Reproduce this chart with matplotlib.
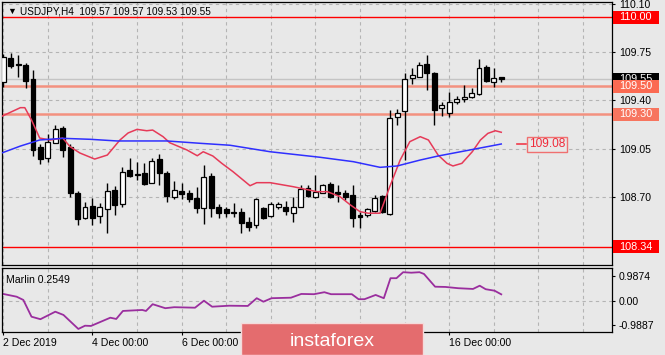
import matplotlib
matplotlib.use('Agg')
import matplotlib.pyplot as plt
from matplotlib.patches import Rectangle
from matplotlib.transforms import blended_transform_factory

plt.rcParams['font.family'] = ['Liberation Sans', 'DejaVu Sans']

#%% data (USDJPY H4)
opens = [109.534, 109.703, 109.660, 109.655, 109.551, 109.059, 108.980, 109.092, 109.201, 109.063,
         108.726, 108.545, 108.634, 108.562, 108.610, 108.750, 108.649, 108.895, 108.866, 108.875,
         108.803, 108.974, 108.871, 108.702, 108.745, 108.731, 108.690, 108.622, 108.854, 108.629,
         108.610, 108.593, 108.589, 108.521, 108.497, 108.622, 108.562, 108.629, 108.629, 108.586,
         108.629, 108.767, 108.702, 108.731, 108.794, 108.738, 108.731, 108.714, 108.569, 108.569,
         108.600, 108.709, 108.576, 109.281, 109.324, 109.558, 109.570, 109.662, 109.599, 109.341,
         109.305, 109.389, 109.406, 109.425, 109.445, 109.642, 109.529, 109.570]
highs = [109.734, 109.739, 109.727, 109.671, 109.618, 109.083, 109.153, 109.220, 109.213, 109.083,
         108.745, 108.665, 108.690, 108.654, 108.803, 108.779, 108.914, 108.980, 108.955, 108.943,
         108.980, 109.011, 108.890, 108.815, 108.803, 108.750, 108.770, 108.931, 108.875, 108.649,
         108.629, 108.654, 108.618, 108.557, 108.690, 108.629, 108.665, 108.665, 108.671, 108.702,
         108.786, 108.786, 108.859, 108.794, 108.810, 108.786, 108.750, 108.786, 108.593, 108.618,
         108.714, 108.714, 109.329, 109.334, 109.595, 109.631, 109.679, 109.727, 109.606, 109.389,
         109.461, 109.430, 109.510, 109.490, 109.696, 109.655, 109.635, 109.570]
lows = [109.498, 109.631, 109.570, 109.486, 108.996, 108.936, 108.955, 109.088, 108.991, 108.702,
        108.497, 108.540, 108.497, 108.514, 108.441, 108.569, 108.629, 108.846, 108.823, 108.786,
        108.799, 108.786, 108.665, 108.683, 108.683, 108.665, 108.586, 108.504, 108.557, 108.545,
        108.557, 108.557, 108.441, 108.456, 108.473, 108.540, 108.557, 108.610, 108.569, 108.521,
        108.625, 108.702, 108.690, 108.726, 108.690, 108.665, 108.678, 108.485, 108.473, 108.557,
        108.593, 108.586, 108.569, 109.220, 108.967, 109.517, 109.566, 109.474, 109.220, 109.286,
        109.281, 109.372, 109.389, 109.418, 109.438, 109.534, 109.493, 109.530]
closes = [109.715, 109.647, 109.657, 109.541, 109.040, 108.972, 109.100, 109.189, 109.040, 108.726,
          108.538, 108.625, 108.545, 108.625, 108.745, 108.642, 108.878, 108.851, 108.862, 108.791,
          108.960, 108.875, 108.707, 108.750, 108.721, 108.683, 108.622, 108.842, 108.622, 108.586,
          108.582, 108.580, 108.514, 108.480, 108.683, 108.545, 108.647, 108.647, 108.600, 108.625,
          108.755, 108.707, 108.738, 108.786, 108.697, 108.721, 108.702, 108.550, 108.553, 108.610,
          108.690, 108.593, 109.269, 109.309, 109.551, 109.580, 109.655, 109.595, 109.329, 109.363,
          109.385, 109.409, 109.425, 109.450, 109.631, 109.539, 109.558, 109.550]

# moving averages (bar index, price)
red_idx = [-0.3, 2.3, 2.9, 3.8, 4.9, 6.3, 8.0, 9.0, 10.3, 12.3, 14.0, 15.7, 16.8, 18.0, 19.3,
           20.1, 21.5, 22.4, 24.7, 26.1, 26.9, 28.2, 29.4, 30.9, 33.2, 34.1, 35.9, 39.0, 42.2,
           43.6, 45.3, 46.7, 48.0, 49.1, 50.7, 52.0, 53.4, 54.7, 56.1, 57.2, 58.5, 59.7, 60.5,
           61.7, 63.1, 64.2, 65.2, 66.2, 67.0]
red_val = [109.281, 109.346, 109.346, 109.257, 109.126, 109.112, 109.126, 109.063, 109.018, 108.974,
           109.003, 109.112, 109.163, 109.189, 109.179, 109.184, 109.136, 109.092, 109.040, 108.998,
           109.027, 108.996, 108.943, 108.883, 108.781, 108.803, 108.803, 108.774, 108.738, 108.738,
           108.702, 108.642, 108.593, 108.582, 108.582, 108.774, 108.967, 109.100, 109.136, 109.112,
           109.003, 108.943, 108.924, 108.943, 109.027, 109.112, 109.160, 109.179, 109.168]
blue_idx = [-0.3, 2.3, 4.9, 8.0, 11.7, 15.3, 22.0, 26.5, 30.5, 35.9, 42.6, 47.1, 50.7, 53.0,
            56.1, 58.5, 62.8, 67.0]
blue_val = [109.016, 109.068, 109.112, 109.124, 109.117, 109.105, 109.105, 109.088, 109.074,
            109.027, 108.987, 108.955, 108.914, 108.924, 108.967, 108.996, 109.040, 109.083]

# Marlin oscillator
marlin_idx = [0, 1.8, 2.7, 3.8, 5.0, 7.0, 8.1, 10.1, 11.0, 11.8, 14.4, 15.2, 16.1, 18.7, 19.2,
              20.1, 21.8, 23.0, 25.8, 27.0, 28.1, 30.4, 32.9, 34.1, 35.0, 36.1, 38.7, 40.1, 41.8,
              43.2, 44.1, 46.9, 47.8, 48.6, 50.1, 51.2, 52.1, 52.9, 53.8, 54.9, 56.0, 56.6, 58.1,
              59.5, 61.2, 63.2, 64.1, 64.9, 66.1, 67.0]
marlin_val = [0.27, 0.16, 0.03, -0.64, -0.74, -0.44, -0.57, -1.13, -1.0, -1.01, -0.68, -0.73, -0.41,
              -0.37, -0.41, -0.14, -0.30, -0.26, -0.28, 0.0, -0.24, -0.20, -0.21, 0.10, -0.04, 0.10,
              0.12, 0.27, 0.26, 0.34, 0.26, 0.26, 0.06, 0.06, 0.23, 0.10, 0.90, 0.90, 1.14, 1.12,
              1.14, 1.07, 0.56, 0.55, 0.50, 0.47, 0.60, 0.46, 0.40, 0.2549]

price_ticks = [110.10, 109.75, 109.40, 109.05, 108.70]
marlin_ticks = [0.9874, 0.0, -0.9887]
marlin_labels = ['0.9874', '0.00', '-0.9887']
date_pos = [0, 12, 24, 36, 48, 60]
date_labels = ['2 Dec 2019', '4 Dec 00:00', '6 Dec 00:00', '10 Dec 00:00', '12 Dec 00:00', '16 Dec 00:00']

# horizontal levels: value, line colour, line width, box colour
levels = [(110.00, '#ff0000', 1.0, '#ff0000'),
          (109.50, '#f3917f', 1.8, '#fb6a52'),
          (109.30, '#f3917f', 1.8, '#f7755f'),
          (108.34, '#ff0000', 1.0, '#ff0000')]
last_price = 109.55
ma_tag = 109.08

bg = '#e8e8e8'
grid_c = '#b4b4b4'
W, H = 665.0, 355.0

fig = plt.figure(figsize=(6.65, 3.55), dpi=100, facecolor=bg)
ax = fig.add_axes([2 / W, 1 - 265 / H, 610 / W, 263 / H], facecolor=bg)
ax2 = fig.add_axes([2 / W, 1 - 332.3 / H, 610 / W, 64 / H], facecolor=bg)

xmin, xmax = -0.17, 81.9

#%% main panel
for i in range(len(opens)):
    o, h, l, c = opens[i], highs[i], lows[i], closes[i]
    ax.vlines(i, l, h, color='black', lw=1, zorder=3)
    bot = min(o, c)
    hgt = max(abs(c - o), 0.004)
    if c >= o:
        ax.bar(i, hgt, bottom=bot, width=0.66, color='white', edgecolor='black', lw=0.9, zorder=4)
    else:
        ax.bar(i, hgt, bottom=bot, width=0.66, color='black', edgecolor='black', lw=0.9, zorder=4)

ax.plot(red_idx, red_val, color='#e63a58', lw=1.1, zorder=5)
ax.plot(blue_idx, blue_val, color='#2f2fff', lw=1.1, zorder=5)

ax.axhline(last_price, color='#c4c4c4', lw=1, zorder=2)
for val, lc, lw, bc in levels:
    ax.axhline(val, color=lc, lw=lw, zorder=2)

ax.set_xlim(xmin, xmax)
ax.set_ylim(108.207, 110.111)
ax.set_xticks(range(0, 82, 6))
ax.tick_params(axis='x', length=0, labelbottom=False)
ax.yaxis.tick_right()
ax.set_yticks(price_ticks)
ax.set_yticklabels(['%.2f' % v for v in price_ticks])
ax.tick_params(axis='y', length=2, width=0.8, pad=3, labelsize=7.6, colors='black')
ax.grid(True, color=grid_c, ls=(0, (3, 3)), lw=0.8, zorder=1)
for s in ax.spines.values():
    s.set_color('black')
    s.set_linewidth(0.9)

# price tags on the right
tr = blended_transform_factory(ax.transAxes, ax.transData)
bh = 13 / 138.2
bw = 46 / 610.0


def tag(val, text, fc, z):
    ax.add_patch(Rectangle((1.0017, val - bh / 2), bw, bh, transform=tr, facecolor=fc,
                           edgecolor='none', clip_on=False, zorder=z))
    ax.text(1.0115, val, text, transform=tr, color='white', fontsize=7.8,
            va='center', ha='left', clip_on=False, zorder=z + 1)


tag(last_price, '%.2f' % last_price, 'black', 20)
for k, (val, lc, lw, bc) in enumerate(levels):
    tag(val, '%.2f' % val, bc, 22 + 2 * k)

# moving average value tag
ax.plot([69.1, 70.3], [ma_tag, ma_tag], color='#f03a4a', lw=1.2, zorder=6, clip_on=False)
ax.text(70.7, ma_tag, '%.2f' % ma_tag, color='#f02a3a', fontsize=8.6, va='center', ha='left',
        zorder=6, bbox=dict(boxstyle='square,pad=0.12', fc=bg, ec='#f07070', lw=1))

# title line
ax.text(5 / 610, 1 - 9 / 263, u'\u25bc', transform=ax.transAxes, fontsize=6.5,
        va='center', ha='left', color='black')
ax.text(18 / 610, 1 - 9.5 / 263, 'USDJPY,H4  109.57 109.57 109.53 109.55',
        transform=ax.transAxes, fontsize=7.2, va='center', ha='left', color='black')

#%% Marlin panel
ax2.plot(marlin_idx, marlin_val, color='#9a2e9e', lw=1.3)
ax2.set_xlim(xmin, xmax)
ax2.set_ylim(-1.264, 1.296)
ax2.yaxis.tick_right()
ax2.set_yticks(marlin_ticks)
ax2.set_yticklabels(marlin_labels)
ax2.tick_params(axis='y', length=2, width=0.8, pad=3, labelsize=7.6)
ax2.set_xticks(date_pos)
ax2.set_xticklabels(date_labels)
for lab in ax2.get_xticklabels():
    lab.set_horizontalalignment('left')
ax2.tick_params(axis='x', length=2, width=0.8, pad=2, labelsize=7.6)
for x in range(0, 82, 6):
    ax2.axvline(x, color=grid_c, ls=(0, (3, 3)), lw=0.8, zorder=0)
ax2.axhline(0, color=grid_c, ls=(0, (3, 3)), lw=0.8, zorder=0)
for s in ax2.spines.values():
    s.set_color('black')
    s.set_linewidth(0.9)
ax2.text(4 / 610, 0.81, 'Marlin 0.2549', transform=ax2.transAxes, fontsize=7.6,
         va='center', ha='left')

#%% logo
fig.add_artist(Rectangle((241 / W, 0), 181.5 / W, 32.5 / H, transform=fig.transFigure,
                         facecolor='#e46c6e', edgecolor='#f4dada', lw=1, zorder=10))
fig.text(332 / W, 1 - 345.5 / H, 'instaforex', color='white', fontsize=14,
         ha='center', va='baseline', zorder=11)

plt.savefig('out.png', dpi=100, facecolor=bg)
